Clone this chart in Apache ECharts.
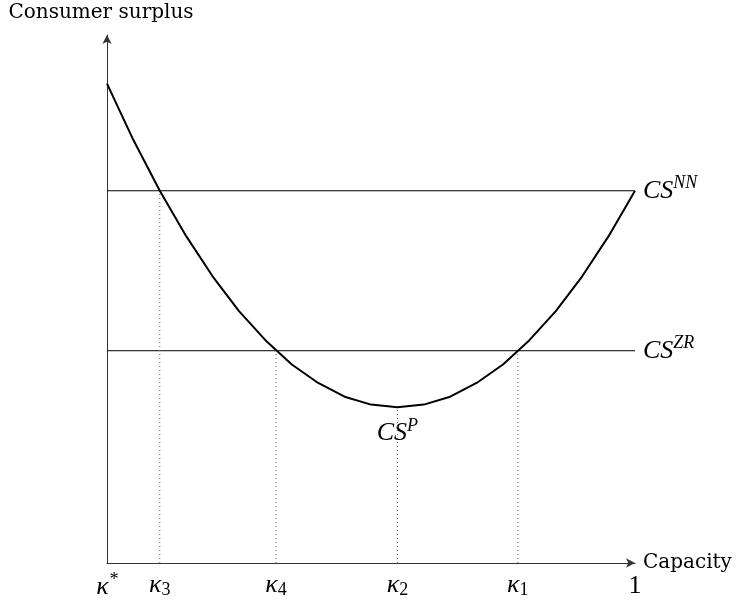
<!DOCTYPE html>
<html>
<head>
<meta charset="utf-8">
<script src="https://cdn.jsdelivr.net/npm/echarts@6/dist/echarts.min.js"></script>
<style>
  html, body { margin: 0; padding: 0; background: #fff; }
  #chart { width: 740px; height: 600px; }
</style>
</head>
<body>
<div id="chart"></div>
<script>
// consumer surplus curve under P
var capacity = [0, 0.05, 0.1, 0.15, 0.2, 0.25, 0.3, 0.35, 0.4, 0.45, 0.5, 0.55,
  0.6, 0.65, 0.7, 0.75, 0.8, 0.85, 0.9, 0.95, 1];
var surplusP = [0.908, 0.801, 0.705, 0.619, 0.543, 0.477, 0.422, 0.376, 0.341, 0.315, 0.300, 0.295,
  0.300, 0.315, 0.341, 0.376, 0.422, 0.477, 0.543, 0.619, 0.705];
var surplusNN = 0.705;
var surplusZR = 0.402;
var minP = [0.55, 0.295];

// x-axis tick positions and labels
var tickValues = [0, 0.1, 0.32, 0.55, 0.778, 1];
var tickLabels = ['{k|κ}{sup|*}', '{k|κ}{sub|3}', '{k|κ}{sub|4}', '{k|κ}{sub|2}', '{k|κ}{sub|1}', '{one|1}'];

// dotted drops from the intersections to the axis
var dropX = [0.1, 0.32, 0.55, 0.778];
var dropTop = [0.705, 0.402, 0.295, 0.402];

var serif = 'DejaVu Serif';
var mathFont = 'Liberation Serif';
var mathRich = {
  cs: { fontFamily: mathFont, fontStyle: 'italic', fontSize: 26, color: '#000' },
  sup: { fontFamily: mathFont, fontStyle: 'italic', fontSize: 18, color: '#000', padding: [0, 0, 14, 0] },
  k: { fontFamily: mathFont, fontStyle: 'italic', fontSize: 26, color: '#000' },
  sub: { fontFamily: mathFont, fontSize: 18, color: '#000', padding: [10, 0, 0, 0] },
  one: { fontFamily: mathFont, fontSize: 26, color: '#000', padding: [2, 0, 0, 0] }
};

const getOptionChart = () => {
  var curve = capacity.map(function (x, i) { return [x, surplusP[i]]; });

  var series = [
    {
      type: 'line', data: curve, symbol: 'none', silent: true,
      lineStyle: { color: '#000', width: 2 }, z: 5
    },
    {
      type: 'scatter', data: [minP], symbolSize: 0, silent: true,
      itemStyle: { opacity: 1, color: '#000' },
      label: { show: true, color: '#000', position: 'bottom', distance: 10, formatter: '{cs|CS}{sup|P}', rich: mathRich }
    },
    {
      type: 'line', data: [[0, surplusNN], [1, surplusNN]], symbol: 'none',
      lineStyle: { color: '#000', width: 1 },
      endLabel: { show: true, distance: 8, formatter: '{cs|CS}{sup|NN}', rich: mathRich }
    },
    {
      type: 'line', data: [[0, surplusZR], [1, surplusZR]], symbol: 'none',
      lineStyle: { color: '#000', width: 1 },
      endLabel: { show: true, distance: 8, formatter: '{cs|CS}{sup|ZR}', rich: mathRich }
    }
  ];
  dropX.forEach(function (x, i) {
    series.push({
      type: 'line', data: [[x, 0], [x, dropTop[i]]], symbol: 'none',
      lineStyle: { color: '#666', width: 1, type: [1, 3] }
    });
  });

  return {
    animation: false,
    grid: { left: 107, right: 105, top: 35, bottom: 37, outerBoundsMode: 'none', containLabel: false },
    xAxis: {
      type: 'value', min: 0, max: 1,
      name: 'Capacity', nameLocation: 'end', nameGap: 8,
      nameTextStyle: { fontFamily: serif, fontSize: 20, color: '#000', verticalAlign: 'middle', padding: [0, 0, 6, 0] },
      axisLine: { show: true, symbol: ['none', 'arrow'], symbolSize: [7, 9], lineStyle: { color: '#333', width: 1 } },
      axisTick: { show: false },
      splitLine: { show: false },
      axisLabel: {
        customValues: tickValues, margin: 8, showMinLabel: true, showMaxLabel: true,
        formatter: function (v) {
          var i = tickValues.indexOf(v);
          return i >= 0 ? tickLabels[i] : '';
        },
        rich: mathRich
      }
    },
    yAxis: {
      type: 'value', min: 0, max: 1,
      name: 'Consumer surplus', nameLocation: 'end', nameGap: 12,
      nameTextStyle: { fontFamily: serif, fontSize: 20, color: '#000', align: 'center', padding: [0, 12, 0, 0] },
      axisLine: { show: true, symbol: ['none', 'arrow'], symbolSize: [7, 9], lineStyle: { color: '#333', width: 1 } },
      axisTick: { show: false },
      splitLine: { show: false },
      axisLabel: { show: false }
    },
    series: series
  };
};

const initCharts = () => {
  const chart = echarts.init(document.getElementById('chart'));
  chart.setOption(getOptionChart());
};

window.addEventListener('load', () => {
  initCharts();
});
</script>
</body>
</html>
